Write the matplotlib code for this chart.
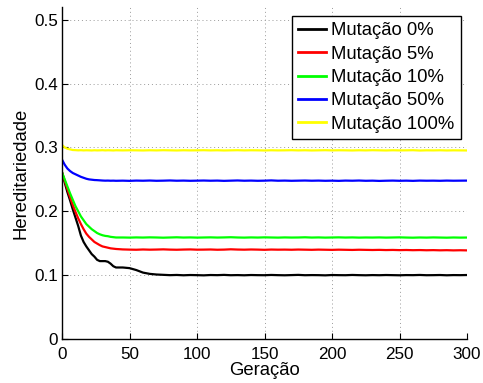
import matplotlib
matplotlib.use("Agg")
import matplotlib.pyplot as plt

plt.rcParams["font.family"] = ["Liberation Sans", "DejaVu Sans"]

# Generations sampled: every 2 during the initial drop, then every 5
geracoes = list(range(0, 41, 2)) + list(range(45, 301, 5))

mut_0 = [0.261, 0.245, 0.230, 0.217, 0.203, 0.190, 0.177, 0.162, 0.152, 0.145,
         0.139, 0.133, 0.129, 0.124, 0.122, 0.122, 0.122, 0.121, 0.118, 0.114,
         0.112,
         0.112, 0.111, 0.108, 0.104, 0.102, 0.101, 0.1005, 0.1000, 0.1003, 0.0998,
         0.1002, 0.1000, 0.0997, 0.1002, 0.1000, 0.1004, 0.0999, 0.1001, 0.0998, 0.1002,
         0.1000, 0.0999, 0.1003, 0.1000, 0.0998, 0.1001, 0.1004, 0.0999, 0.1001, 0.1000,
         0.0997, 0.1002, 0.1000, 0.0999, 0.1003, 0.1000, 0.0998, 0.1001, 0.0999, 0.1002,
         0.1000, 0.0998, 0.1001, 0.1000, 0.1003, 0.0999, 0.1000, 0.1002, 0.0998, 0.1001,
         0.1000, 0.1002]

mut_5 = [0.261, 0.248, 0.235, 0.222, 0.210, 0.199, 0.189, 0.180, 0.172, 0.165,
         0.160, 0.156, 0.152, 0.1495, 0.147, 0.145, 0.144, 0.143, 0.142, 0.1415,
         0.141,
         0.1403, 0.1400, 0.1398, 0.1402, 0.1399, 0.1401, 0.1404, 0.1400, 0.1398, 0.1401,
         0.1403, 0.1399, 0.1400, 0.1402, 0.1398, 0.1400, 0.1405, 0.1401, 0.1399, 0.1402,
         0.1400, 0.1397, 0.1401, 0.1399, 0.1400, 0.1398, 0.1401, 0.1399, 0.1397, 0.1400,
         0.1398, 0.1396, 0.1399, 0.1397, 0.1395, 0.1398, 0.1396, 0.1394, 0.1396, 0.1393,
         0.1395, 0.1392, 0.1394, 0.1391, 0.1393, 0.1390, 0.1392, 0.1389, 0.1391, 0.1388,
         0.1390, 0.1388]

mut_10 = [0.261, 0.250, 0.239, 0.228, 0.218, 0.208, 0.200, 0.192, 0.186, 0.180,
          0.176, 0.172, 0.169, 0.166, 0.164, 0.1625, 0.1615, 0.161, 0.160, 0.1595,
          0.159,
          0.1590, 0.1588, 0.1591, 0.1589, 0.1592, 0.1590, 0.1587, 0.1590, 0.1593, 0.1589,
          0.1591, 0.1588, 0.1590, 0.1592, 0.1589, 0.1591, 0.1594, 0.1590, 0.1588, 0.1591,
          0.1589, 0.1592, 0.1590, 0.1588, 0.1591, 0.1589, 0.1590, 0.1593, 0.1589, 0.1591,
          0.1588, 0.1590, 0.1592, 0.1589, 0.1591, 0.1588, 0.1590, 0.1589, 0.1591, 0.1588,
          0.1590, 0.1592, 0.1589, 0.1587, 0.1590, 0.1588, 0.1591, 0.1589, 0.1587, 0.1590,
          0.1588, 0.1589]

mut_50 = [0.281, 0.273, 0.267, 0.263, 0.260, 0.258, 0.256, 0.254, 0.2525, 0.251,
          0.250, 0.2495, 0.249, 0.2488, 0.2485, 0.2482, 0.2480, 0.2481, 0.2479, 0.2480,
          0.2478,
          0.2480, 0.2477, 0.2481, 0.2479, 0.2482, 0.2478, 0.2480, 0.2483, 0.2479, 0.2481,
          0.2478, 0.2480, 0.2482, 0.2479, 0.2481, 0.2477, 0.2480, 0.2483, 0.2479, 0.2481,
          0.2478, 0.2480, 0.2484, 0.2479, 0.2481, 0.2478, 0.2480, 0.2482, 0.2479, 0.2481,
          0.2478, 0.2480, 0.2477, 0.2481, 0.2479, 0.2482, 0.2478, 0.2480, 0.2476, 0.2479,
          0.2481, 0.2478, 0.2480, 0.2477, 0.2481, 0.2479, 0.2480, 0.2478, 0.2481, 0.2479,
          0.2480, 0.2481]

mut_100 = [0.304, 0.300, 0.298, 0.297, 0.296, 0.2958, 0.2955, 0.2957, 0.2954, 0.2956,
           0.2955, 0.2953, 0.2956, 0.2954, 0.2955, 0.2957, 0.2954, 0.2956, 0.2955, 0.2953,
           0.2956,
           0.2954, 0.2956, 0.2955, 0.2953, 0.2956, 0.2954, 0.2957, 0.2955, 0.2953, 0.2956,
           0.2954, 0.2955, 0.2957, 0.2954, 0.2956, 0.2953, 0.2955, 0.2957, 0.2954, 0.2956,
           0.2955, 0.2953, 0.2956, 0.2954, 0.2955, 0.2957, 0.2954, 0.2956, 0.2953, 0.2955,
           0.2957, 0.2954, 0.2956, 0.2955, 0.2953, 0.2956, 0.2954, 0.2957, 0.2955, 0.2953,
           0.2956, 0.2954, 0.2955, 0.2957, 0.2952, 0.2955, 0.2954, 0.2956, 0.2953, 0.2955,
           0.2954, 0.2953]

series = [mut_0, mut_5, mut_10, mut_50, mut_100]
rotulos = ["Mutação 0%", "Mutação 5%", "Mutação 10%", "Mutação 50%", "Mutação 100%"]
cores = ["#000000", "#ff0000", "#00ff00", "#0000ff", "#ffff00"]

x_ticks = [0, 50, 100, 150, 200, 250, 300]
y_ticks = [0, 0.1, 0.2, 0.3, 0.4, 0.5]
y_ticklabels = ["0", "0.1", "0.2", "0.3", "0.4", "0.5"]

fig = plt.figure(figsize=(4.83, 3.83), dpi=100)
ax = fig.add_axes([62 / 483, 44 / 383, 405 / 483, 332 / 383])

for valores, rotulo, cor in zip(series, rotulos, cores):
    ax.plot(geracoes, valores, color=cor, linewidth=1.6, label=rotulo)

ax.set_xlim(0, 300)
ax.set_ylim(0, 0.52)
ax.set_xticks(x_ticks)
ax.set_yticks(y_ticks)
ax.set_yticklabels(y_ticklabels)

ax.grid(True, linestyle=(0, (1, 3)), color="#9a9a9a", linewidth=0.7)
ax.set_axisbelow(True)

for lado in ("top", "right"):
    ax.spines[lado].set_visible(False)
for lado in ("left", "bottom"):
    ax.spines[lado].set_linewidth(1.0)

ax.tick_params(direction="in", length=4, width=0.8, labelsize=12.3)
ax.tick_params(axis="x", pad=5.5)
ax.tick_params(axis="y", pad=3)

ax.set_xlabel("Geração", fontsize=13.3, labelpad=0)
ax.set_ylabel("Hereditariedade", fontsize=13.3, labelpad=3)

leg = ax.legend(loc="upper right", bbox_to_anchor=(0.985, 0.973), borderaxespad=0,
                fontsize=13.3, frameon=True, fancybox=False, framealpha=1,
                edgecolor="black", handlelength=1.5, handletextpad=0.28,
                labelspacing=0.34, borderpad=0.35)
leg.get_frame().set_linewidth(1.0)
for linha in leg.get_lines():
    linha.set_linewidth(2.0)

fig.savefig("out.png", dpi=100)
